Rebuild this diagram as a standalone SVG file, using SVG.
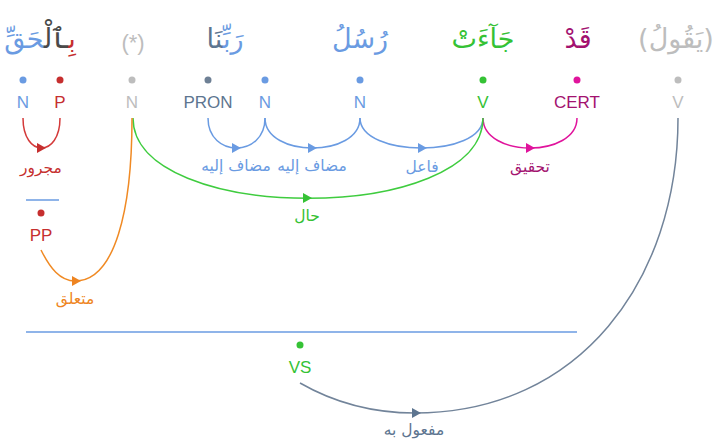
<svg xmlns="http://www.w3.org/2000/svg" xmlns:xlink="http://www.w3.org/1999/xlink" width="715" height="442" viewBox="0 0 715 442">
<defs>
<style>
.w{font-family:"DejaVu Sans",sans-serif;font-size:27px;text-anchor:middle}
.t{font-family:"Liberation Sans",Arial,sans-serif;font-size:17px;text-anchor:middle}
.l{font-family:"DejaVu Sans",sans-serif;font-size:15.5px;text-anchor:middle}
.arc{fill:none;stroke-width:1.5}
.blue{fill:#6a9be2}.bluek{stroke:#6a9be2}
.red{fill:#c62f2f}.redk{stroke:#d43a3a}
.gray{fill:#bdbdbd}
.slate{fill:#5d7590}.slatek{stroke:#72849a}
.green{fill:#35c235}.greenk{stroke:#3fcc3f}
.mag{fill:#e0149c}.magk{stroke:#e0149c}.magt{fill:#a3126f}
.org{fill:#ee8421}.orgk{stroke:#f08a24}
</style>
<path id="ah" d="M-4,-5 L5,0 L-4,5 Z"/>
</defs>
<rect width="715" height="442" fill="#fff"/>
<g id="w1"><text class="w" x="40" y="48" direction="rtl"><tspan fill="#c62f2f">بِ</tspan><tspan fill="#4a4a4a">ٱلْ</tspan><tspan fill="#6a9be2">حَقِّ</tspan></text>
<circle class="blue" cx="23" cy="80" r="3.5"/><text class="t blue" x="23" y="108">N</text>
<circle class="red" cx="60" cy="80" r="3.5"/><text class="t red" x="60" y="108">P</text></g>
<g id="w2"><text class="gray" x="133" y="50" style="font-family:'Liberation Sans',sans-serif;font-size:22px;text-anchor:middle">(*)</text>
<circle class="gray" cx="132" cy="80" r="3.5"/><text class="t gray" x="132" y="108">N</text></g>
<g id="w3"><text class="w" x="225" y="48" direction="rtl"><tspan fill="#6a9be2">رَبِّ</tspan><tspan fill="#5d7590">نَا</tspan></text>
<circle fill="#6e8095" cx="208" cy="80" r="3.5"/><text class="t slate" x="208" y="108">PRON</text>
<circle class="blue" cx="265" cy="80" r="3.5"/><text class="t blue" x="265" y="108">N</text></g>
<g id="w4"><text class="w blue" x="360" y="48" direction="rtl">رُسُلُ</text>
<circle class="blue" cx="360" cy="80" r="3.5"/><text class="t blue" x="360" y="108">N</text></g>
<g id="w5"><text class="w green" x="483" y="48" direction="rtl">جَآءَتْ</text>
<circle class="green" cx="483" cy="80" r="3.5"/><text class="t green" x="483" y="108">V</text></g>
<g id="w6"><text class="w magt" x="578" y="48" direction="rtl">قَدْ</text>
<circle class="mag" cx="577" cy="80" r="3.5"/><text class="t magt" x="577" y="108">CERT</text></g>
<g id="w7"><text class="w gray" x="676" y="48" direction="rtl">(يَقُولُ)</text>
<circle class="gray" cx="678" cy="80" r="3.5"/><text class="t gray" x="678" y="108">V</text></g>
<g id="pp"><line x1="26" y1="200" x2="59" y2="200" stroke="#6a9be2" stroke-width="1.5"/>
<circle class="red" cx="41" cy="213" r="3.5"/><text class="t red" x="41" y="241">PP</text></g>
<g id="vs"><line x1="26" y1="332" x2="577" y2="332" stroke="#6a9be2" stroke-width="1.5"/>
<circle class="green" cx="300" cy="345" r="3.5"/><text class="t green" x="300" y="373">VS</text></g>
<g id="connectors">
<path class="arc redk" d="M60,118 C60,158 23,158 23,118"/>
<use href="#ah" x="41" y="148" class="red"/>
<text class="l red" x="41" y="173">مجرور</text>
<path class="arc bluek" d="M265,118 C265,158 208,158 208,118"/>
<use href="#ah" x="236" y="148" class="blue"/>
<text class="l blue" x="236" y="171">مضاف إليه</text>
<path class="arc bluek" d="M360,118 C360,158 265,158 265,118"/>
<use href="#ah" x="312" y="148" class="blue"/>
<text class="l blue" x="312" y="171">مضاف إليه</text>
<path class="arc bluek" d="M483,118 C483,158 360,158 360,118"/>
<use href="#ah" x="422" y="148" class="blue"/>
<text class="l blue" x="422" y="172">فاعل</text>
<path class="arc magk" d="M577,118 C577,158 483,158 483,118"/>
<use href="#ah" x="530" y="148" class="mag"/>
<text class="l magt" x="530" y="172">تحقيق</text>
<path class="arc greenk" d="M483,118 C483,225 133,225 133,118"/>
<use href="#ah" x="307" y="198" class="green"/>
<text class="l green" x="307" y="221">حال</text>
<path class="arc orgk" d="M41,250 C50,268 60,281 75,281 C115,281 132,210 132,118"/>
<use href="#ah" x="76" y="281" class="org"/>
<text class="l org" x="75" y="304">متعلق</text>
<path class="arc slatek" d="M300,383 C340,406 380,413 415,413 C580,413 678,280 678,118"/>
<use href="#ah" x="416" y="413" class="slate"/>
<text class="l slate" x="414" y="435">مفعول به</text>
</g>
</svg>
